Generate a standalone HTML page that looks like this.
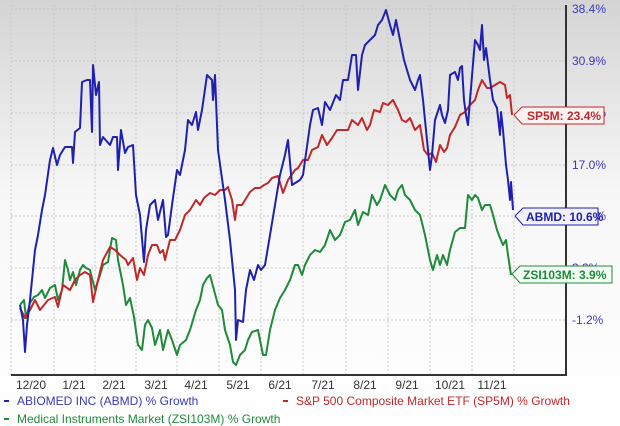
<!DOCTYPE html>
<html><head><meta charset="utf-8"><style>
html,body{margin:0;padding:0;width:620px;height:426px;overflow:hidden;background:#fff;font-family:"Liberation Sans",sans-serif}
</style></head><body>
<svg width="620" height="426" viewBox="0 0 620 426" xmlns="http://www.w3.org/2000/svg">
<defs><linearGradient id="bg" x1="0" y1="0" x2="0" y2="1">
<stop offset="0" stop-color="#d4d4d4"/><stop offset="0.45" stop-color="#f7f7f7"/><stop offset="1" stop-color="#ffffff"/></linearGradient></defs>
<rect width="620" height="426" fill="url(#bg)"/>
<g stroke="#c8c8c8" stroke-dasharray="2,2" stroke-width="1">
<line x1="11" x2="566" y1="9" y2="9"/><line x1="11" x2="566" y1="61" y2="61"/><line x1="11" x2="566" y1="113" y2="113"/><line x1="11" x2="566" y1="165" y2="165"/><line x1="11" x2="566" y1="216" y2="216"/><line x1="11" x2="566" y1="268" y2="268"/><line x1="11" x2="566" y1="320" y2="320"/>
<line x1="54" x2="54" y1="5" y2="375"/><line x1="95" x2="95" y1="5" y2="375"/><line x1="136" x2="136" y1="5" y2="375"/><line x1="177" x2="177" y1="5" y2="375"/><line x1="219" x2="219" y1="5" y2="375"/><line x1="261" x2="261" y1="5" y2="375"/><line x1="303" x2="303" y1="5" y2="375"/><line x1="346" x2="346" y1="5" y2="375"/><line x1="388" x2="388" y1="5" y2="375"/><line x1="430" x2="430" y1="5" y2="375"/><line x1="472" x2="472" y1="5" y2="375"/><line x1="514" x2="514" y1="5" y2="375"/>
<line x1="11" x2="11" y1="5" y2="375"/>
</g>
<polyline fill="none" stroke="#333" stroke-width="2" points="11,375 566,375 566,5"/>
<g font-size="12" fill="#3a3ab5">
<text x="572" y="13">38.4%</text><text x="572" y="65">30.9%</text><text x="572" y="117">23.8%</text><text x="572" y="169">17.0%</text><text x="572" y="220">10.1%</text><text x="572" y="272">3.3%</text><text x="572" y="324">-1.2%</text>
</g>
<g font-size="12" fill="#333" text-anchor="middle">
<text x="31" y="389">12/20</text><text x="74" y="389">1/21</text><text x="114" y="389">2/21</text><text x="156" y="389">3/21</text><text x="196" y="389">4/21</text><text x="238" y="389">5/21</text><text x="280" y="389">6/21</text><text x="323" y="389">7/21</text><text x="365" y="389">8/21</text><text x="407" y="389">9/21</text><text x="450" y="389">10/21</text><text x="492" y="389">11/21</text>
</g>
<polyline fill="none" stroke="#1e8a3a" stroke-width="2" stroke-linejoin="round" points="20,305 24,300 26,318 30,303 34,297 38,295 42,290 45,298 50,288 55,285 58,300 62,290 65,260 68,270 70,280 73,272 76,285 80,270 83,265 86,268 90,270 95,290 100,275 103,265 108,262 112,238 116,240 118,260 123,285 126,305 130,298 134,317 138,345 142,350 145,325 148,320 152,328 155,345 160,330 163,350 168,330 172,340 177,355 180,345 186,340 190,330 196,310 200,300 203,285 207,278 210,275 214,290 218,305 222,310 225,330 230,345 233,362 236,365 240,355 245,350 248,340 252,332 258,330 263,355 266,355 270,330 275,310 280,298 285,290 290,280 295,265 298,265 302,275 305,265 310,255 315,250 320,252 325,245 330,230 335,240 340,235 345,222 350,220 355,210 358,225 363,212 368,215 372,195 377,205 380,200 385,185 390,195 395,200 398,190 402,185 405,195 410,200 415,210 420,215 425,235 430,260 433,270 437,255 440,265 443,255 447,265 450,250 455,232 460,228 465,228 468,195 472,200 475,195 478,198 482,210 485,205 490,205 493,215 497,230 500,238 503,245 506,240 508,255 511,275"/>
<polyline fill="none" stroke="#c0282a" stroke-width="2" stroke-linejoin="round" points="20,308 25,318 30,310 35,300 40,310 48,300 55,297 58,307 63,285 70,290 75,280 80,275 85,272 90,275 93,302 98,280 103,260 110,247 115,250 120,255 126,260 128,265 133,258 137,280 140,268 144,275 148,255 152,245 157,245 160,253 163,250 165,260 170,240 175,240 180,230 185,215 190,210 196,200 200,205 204,198 210,193 215,195 220,190 225,190 228,187 232,200 235,220 237,205 242,205 245,200 250,192 255,188 260,188 264,185 268,183 272,178 278,176 283,193 288,180 295,170 298,168 303,160 308,160 312,150 318,147 322,135 327,145 332,138 337,130 342,130 348,130 352,120 358,125 362,118 367,130 370,125 374,110 380,112 383,103 388,105 393,100 398,110 402,120 406,122 410,118 415,130 420,125 424,150 428,155 432,153 436,162 440,145 444,152 447,148 450,135 455,127 460,115 465,112 470,105 475,100 478,90 482,80 487,88 490,88 495,85 500,82 505,85 507,98 510,95 512,115"/>
<polyline fill="none" stroke="#2020b0" stroke-width="2" stroke-linejoin="round" points="20,305 23,320 25,352 27,325 30,300 35,250 38,235 42,210 45,195 50,160 53,148 57,165 60,155 65,147 72,147 73,163 75,132 80,128 82,82 87,80 90,80 92,132 93,65 96,95 99,82 100,145 103,137 110,145 113,137 117,137 118,170 121,130 125,153 128,147 133,145 136,195 140,215 144,262 146,230 150,205 155,200 158,220 163,200 166,237 168,235 172,205 177,170 180,175 185,150 188,120 192,125 196,112 198,130 202,110 207,75 212,80 213,100 215,75 218,150 225,200 230,240 235,290 236,340 238,320 243,322 246,290 250,270 254,280 258,265 261,270 265,265 270,235 275,205 280,175 285,155 288,140 292,185 300,180 303,175 310,125 313,110 318,108 322,125 325,102 330,110 336,95 340,100 343,80 348,80 352,55 356,55 358,90 362,55 365,45 370,40 375,35 378,25 382,20 386,10 390,25 393,35 396,20 400,40 404,60 410,80 415,90 418,80 420,75 423,100 428,150 430,170 432,155 435,120 440,105 442,115 445,123 448,110 450,75 455,72 458,80 460,68 462,66 464,100 466,115 468,125 470,100 475,40 478,45 480,50 482,25 484,60 486,48 490,80 493,100 497,108 500,135 501,112 503,130 506,165 508,180 510,200 511,182 513,210"/>
<g font-size="12" font-weight="bold">
<path d="M514,115 L522,107 L604,107 L604,124 L522,124 Z" fill="#fdf2f2" stroke="#c0282a"/>
<text x="527" y="120" fill="#c0282a">SP5M: 23.4%</text>
<path d="M515,216 L523,208 L598,208 L598,225 L523,225 Z" fill="#f2f2fd" stroke="#2020b0"/>
<text x="526" y="221" fill="#2020b0">ABMD: 10.6%</text>
<path d="M512,274 L520,266 L612,266 L612,283 L520,283 Z" fill="#f2fdf4" stroke="#1e8a3a"/>
<text x="523" y="279" fill="#1e8a3a">ZSI103M: 3.9%</text>
</g>
<g font-size="12">
<rect x="4" y="400" width="5" height="2" fill="#2020b0"/><text x="17" y="405" fill="#3a3ab5">ABIOMED INC (ABMD) % Growth</text>
<rect x="283" y="400" width="5" height="2" fill="#c0282a"/><text x="296" y="405" fill="#c0282a">S&amp;P 500 Composite Market ETF (SP5M) % Growth</text>
<rect x="4" y="418" width="5" height="2" fill="#1e8a3a"/><text x="17" y="423" fill="#1e8a3a">Medical Instruments Market (ZSI103M) % Growth</text>
</g>
</svg>
</body></html>
